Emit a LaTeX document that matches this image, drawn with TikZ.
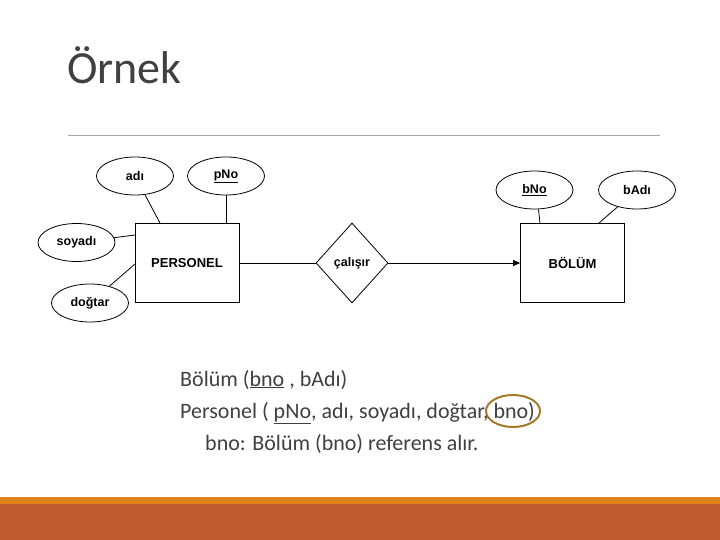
\documentclass[tikz,border=0pt]{standalone}
\usepackage{fontspec}
\setmainfont{Carlito}
\newfontfamily\arial{Liberation Sans}
\usetikzlibrary{shapes.geometric,arrows.meta}
\definecolor{txtgray}{HTML}{404040}
\definecolor{rulegray}{HTML}{A6A6A6}
\definecolor{barorange}{HTML}{E0811A}
\definecolor{barbrown}{HTML}{BE5A2C}
\definecolor{circ}{HTML}{A47A2A}
\tikzset{
  attr/.style={draw, ellipse, line width=0.8pt, inner sep=0pt, minimum width=77pt, minimum height=38pt, font=\arial\bfseries\fontsize{12.5}{14}\selectfont},
  entity/.style={draw, rectangle, line width=0.8pt, inner sep=0pt, minimum width=104pt, minimum height=79pt, font=\arial\bfseries\fontsize{13}{15}\selectfont},
  rel/.style={draw, diamond, line width=0.8pt, inner sep=0pt, minimum width=72pt, minimum height=80pt, font=\arial\bfseries\fontsize{12.5}{14}\selectfont},
  conn/.style={line width=0.8pt},
  body/.style={anchor=base west, inner sep=0pt, text=txtgray, font=\fontsize{22}{25}\selectfont}
}
\begin{document}
\begin{tikzpicture}[x=1pt,y=-1pt]
\useasboundingbox[fill=white] (0,0) rectangle (720,540);
% title
\node[anchor=base west, inner sep=0pt, text=txtgray, font=\fontsize{46}{50}\selectfont] (title) at (67,84) {Örnek};
\draw[rulegray, line width=1pt] (68,136) -- (660,136);
% bars
\fill[barorange] (0,497) rectangle (720,504);
\fill[barbrown] (0,504) rectangle (720,540);
% diagram
\node[entity] (pers) at (187,263) {PERSONEL};
\node[entity] (bol) at (572.5,263) {BÖLÜM};
\node[rel] (cal) at (352,263) {çalışır};
\node[attr] (adi) at (135,176) {adı};
\node[attr] (pno) at (226,176) {\underline{pNo}};
\node[attr] (soy) at (76.5,242.5) {soyadı};
\node[attr] (dog) at (90,303) {doğtar};
\node[attr] (bno) at (534.5,190) {\underline{bNo}};
\node[attr] (badi) at (637,190) {bAdı};
\draw[conn] (adi) -- (160,223);
\draw[conn] (pno) -- (pno|-pers.north);
\draw[conn] (soy) -- (135,235);
\draw[conn] (dog) -- (135,264);
\draw[conn] (pers) -- (cal);
\draw[conn, -{Triangle[length=7pt,width=6pt]}] (cal) -- (bol);
\draw[conn] (bno.south) ++(4,0) coordinate (bnoc) -- (540,223);
\draw[conn] (badi) -- (599,223);
% text
\node[body] (l1) at (180,386) {Bölüm (\underline{bno} , bAdı)};
\node[body] (l2) at (180,418) {Personel ( \underline{pNo}, adı, soyadı, doğtar, bno)};
\node[body] (l3) at (205,450) {bno: Bölüm (bno) referens alır.};
\draw[circ, line width=2pt] (513,411) ellipse (27pt and 16pt);
\end{tikzpicture}
\end{document}
